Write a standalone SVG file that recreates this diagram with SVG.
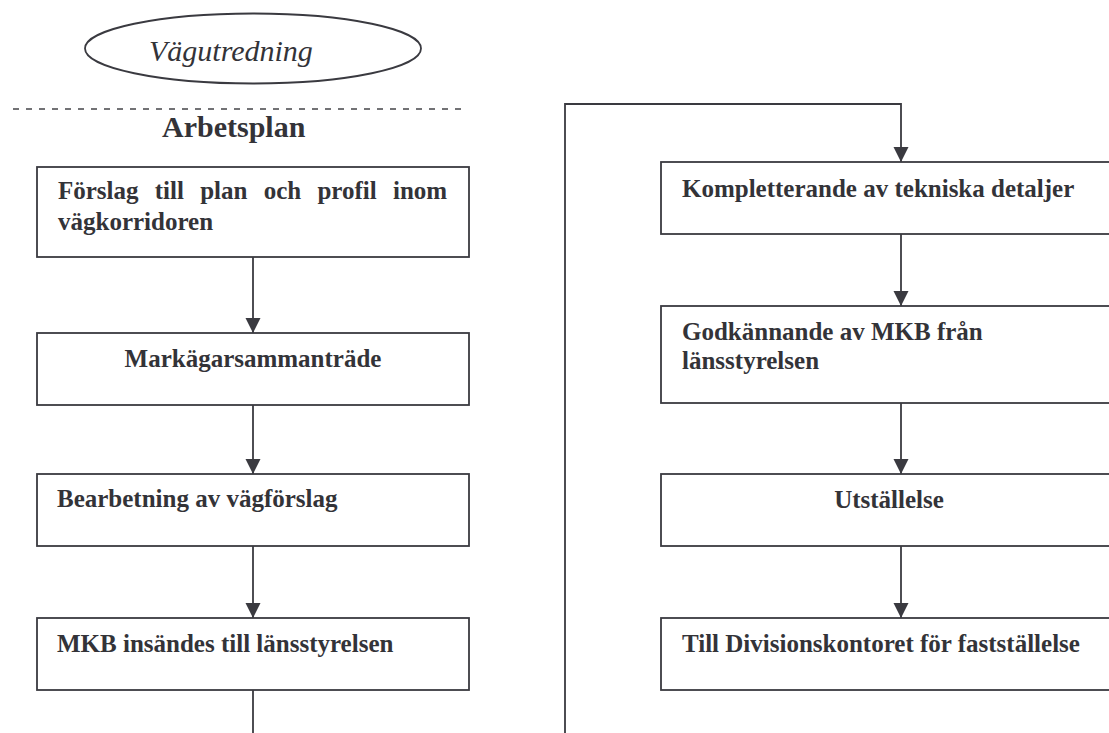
<svg xmlns="http://www.w3.org/2000/svg" width="1109" height="733" viewBox="0 0 1109 733">
  <style>
    .box { fill: #ffffff; stroke: #3a3a40; stroke-width: 1.8; }
    .conn { fill: none; stroke: #3a3a40; stroke-width: 1.8; }
    .t { font-family: "Liberation Serif", "Times New Roman", serif; font-weight: bold; font-size: 25px; fill: #333338; }
    .title { font-family: "Liberation Serif", "Times New Roman", serif; font-size: 30px; fill: #333338; }
  </style>
  <defs>
    <marker id="arr" markerUnits="userSpaceOnUse" markerWidth="16" markerHeight="16" refX="15" refY="7.5" orient="auto">
      <path d="M0,0 L15,7.5 L0,15 z" fill="#3a3a40"/>
    </marker>
  </defs>
  <rect width="1109" height="733" fill="#ffffff"/>

  <g id="vagutredning">
    <ellipse cx="253" cy="48.5" rx="168" ry="35" fill="none" stroke="#3a3a40" stroke-width="1.8"/>
    <text class="title" x="149" y="61" font-style="italic" font-size="32">Vägutredning</text>
  </g>

  <g id="separator">
    <line x1="13" y1="109" x2="467" y2="109" stroke="#444448" stroke-width="1.5" stroke-dasharray="6 7"/>
  </g>

  <g id="arbetsplan">
    <text class="title" x="162" y="137" font-weight="bold">Arbetsplan</text>
  </g>

  <g id="connectors">
    <line class="conn" x1="253" y1="257" x2="253" y2="333" marker-end="url(#arr)"/>
    <line class="conn" x1="253" y1="405" x2="253" y2="474" marker-end="url(#arr)"/>
    <line class="conn" x1="253" y1="546" x2="253" y2="618" marker-end="url(#arr)"/>
    <line class="conn" x1="253" y1="690" x2="253" y2="740"/>
    <path class="conn" d="M565,740 V104 H901 V162" stroke-width="2" marker-end="url(#arr)"/>
    <line class="conn" x1="901" y1="234" x2="901" y2="306" marker-end="url(#arr)"/>
    <line class="conn" x1="901" y1="403" x2="901" y2="474" marker-end="url(#arr)"/>
    <line class="conn" x1="901" y1="546" x2="901" y2="618" marker-end="url(#arr)"/>
  </g>

  <g id="n1">
    <rect class="box" x="37" y="167" width="432" height="90"/>
    <text class="t" x="58" y="199" word-spacing="10">Förslag till plan och profil inom</text>
    <text class="t" x="58" y="230">vägkorridoren</text>
  </g>
  <g id="n2">
    <rect class="box" x="37" y="333" width="432" height="72"/>
    <text class="t" x="253" y="367" text-anchor="middle">Markägarsammanträde</text>
  </g>
  <g id="n3">
    <rect class="box" x="37" y="474" width="432" height="72"/>
    <text class="t" x="57" y="507">Bearbetning av vägförslag</text>
  </g>
  <g id="n4">
    <rect class="box" x="37" y="618" width="432" height="72"/>
    <text class="t" x="57" y="652">MKB insändes till länsstyrelsen</text>
  </g>

  <g id="n5">
    <rect class="box" x="661" y="162" width="470" height="72"/>
    <text class="t" x="682" y="197">Kompletterande av tekniska detaljer</text>
  </g>
  <g id="n6">
    <rect class="box" x="661" y="306" width="470" height="97"/>
    <text class="t" x="682" y="340">Godkännande av MKB från</text>
    <text class="t" x="682" y="369">länsstyrelsen</text>
  </g>
  <g id="n7">
    <rect class="box" x="661" y="474" width="470" height="72"/>
    <text class="t" x="889" y="508" text-anchor="middle">Utställelse</text>
  </g>
  <g id="n8">
    <rect class="box" x="661" y="618" width="470" height="72"/>
    <text class="t" x="682" y="652">Till Divisionskontoret för fastställelse</text>
  </g>
</svg>
